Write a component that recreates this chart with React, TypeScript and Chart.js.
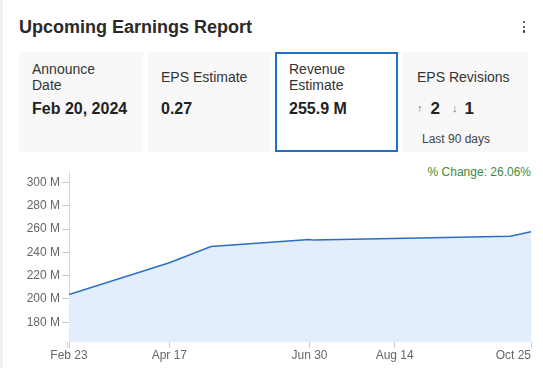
import React, { useEffect, useRef } from 'react';
import { Chart, registerables } from 'chart.js';

Chart.register(...registerables);

// ---- data ----
const pointDates = ['2023-02-23', '2023-04-17', '2023-05-09', '2023-06-30', '2023-07-02', '2023-10-14', '2023-10-25'];
const revenueM = [203.8, 231.0, 245.0, 251.1, 250.5, 253.9, 257.7];
const xTickDates = ['2023-02-23', '2023-04-17', '2023-06-30', '2023-08-14', '2023-10-25'];
const yTickValues = [180, 200, 220, 240, 260, 280, 300];
const yMin = 163;
const yMax = 309;
const monthNames = ['Jan', 'Feb', 'Mar', 'Apr', 'May', 'Jun', 'Jul', 'Aug', 'Sep', 'Oct', 'Nov', 'Dec'];

const cardLabels = [['Announce', 'Date'], ['EPS Estimate'], ['Revenue', 'Estimate'], ['EPS Revisions']];
const cardValues = ['Feb 20, 2024', '0.27', '255.9 M'];
const revisionsUp = '2';
const revisionsDown = '1';
const revisionsNote = 'Last 90 days';
const changeText = '% Change: 26.06%';
const titleText = 'Upcoming Earnings Report';

const DAY = 86400000;
const t0 = Date.parse(pointDates[0]);
const dayOf = (d: string) => (Date.parse(d) - t0) / DAY;
const fmtDay = (v: number) => {
  const dt = new Date(t0 + v * DAY);
  return monthNames[dt.getUTCMonth()] + ' ' + dt.getUTCDate();
};

const FONT = '"Liberation Sans", Arial, Helvetica, sans-serif';

function RevenueChart() {
  const ref = useRef<HTMLCanvasElement | null>(null);
  useEffect(() => {
    if (!ref.current) return;
    const xTicks = xTickDates.map(dayOf);
    const chart = new Chart(ref.current, {
      type: 'line',
      data: {
        datasets: [
          {
            data: pointDates.map((d, i) => ({ x: dayOf(d), y: revenueM[i] })),
            borderColor: '#2b6fc0',
            borderWidth: 1.5,
            backgroundColor: '#e2eefb',
            fill: 'start',
            pointRadius: 0,
            tension: 0,
          },
        ],
      },
      options: {
        animation: false,
        responsive: false,
        layout: { padding: { top: 12, right: 12, bottom: 0, left: 0 } },
        plugins: { legend: { display: false }, tooltip: { enabled: false } },
        scales: {
          x: {
            type: 'linear',
            min: 0,
            max: dayOf(xTickDates[xTickDates.length - 1]),
            afterBuildTicks: (s: any) => {
              s.ticks = [{ value: -1 }].concat(xTicks.map((v) => ({ value: v })));
            },
            afterFit: (s: any) => {
              s.height = 26;
              s.paddingLeft = 0;
              s.paddingRight = 0;
            },
            ticks: {
              autoSkip: false,
              maxRotation: 0,
              align: 'inner',
              padding: 0,
              color: '#666666',
              font: { size: 12, family: FONT },
              callback: (v: any) => (v < 0 ? '' : fmtDay(Number(v))),
            },
            grid: { drawOnChartArea: false, drawTicks: true, tickLength: 6, tickColor: '#cccccc' },
            border: { display: false },
          },
          y: {
            min: yMin,
            max: yMax,
            afterBuildTicks: (s: any) => {
              s.ticks = yTickValues.map((v) => ({ value: v }));
            },
            afterFit: (s: any) => {
              s.width = 69;
              s.paddingTop = 0;
              s.paddingBottom = 0;
            },
            ticks: {
              padding: 2,
              color: '#666666',
              font: { size: 12, family: FONT },
              callback: (v: any) => v + ' M',
            },
            grid: { drawOnChartArea: false, drawTicks: true, tickLength: 7, tickColor: '#cccccc' },
            border: { display: true, color: '#d6d6d6', width: 1 },
          },
        },
      } as any,
    });
    return () => chart.destroy();
  }, []);
  return <canvas ref={ref} width={543} height={208} style={{ display: 'block', width: 543, height: 208 }} />;
}

const cardLefts = [19, 148, 275, 402];
const cardWidths = [124, 123, 123, 126];

export default function App() {
  return (
    <div
      style={{
        position: 'absolute',
        left: 0,
        top: 0,
        width: 543,
        height: 368,
        background: '#ffffff',
        fontFamily: FONT,
        overflow: 'hidden',
      }}
    >
      <div style={{ position: 'absolute', left: 0, top: 0, width: 3, height: 368, background: '#f2f2f2' }} />
      <div
        style={{
          position: 'absolute',
          left: 19,
          top: 15,
          fontSize: 18,
          lineHeight: '24px',
          fontWeight: 'bold',
          color: '#2a2a2a',
          whiteSpace: 'nowrap',
        }}
      >
        {titleText}
      </div>
      {[22, 27, 31.5].map((y, i) => (
        <div
          key={i}
          style={{ position: 'absolute', left: 522.5, top: y - 1.2, width: 2.5, height: 2.5, borderRadius: 1, background: '#333' }}
        />
      ))}
      {cardLefts.map((left, i) => {
        const selected = i === 2;
        const lines = cardLabels[i];
        const textLeft = i === 3 ? 15 : selected ? 12 : 13;
        return (
          <div
            key={i}
            style={{
              position: 'absolute',
              left,
              top: 52,
              width: cardWidths[i],
              height: 100,
              boxSizing: 'border-box',
              background: selected ? '#ffffff' : '#f8f8f8',
              border: selected ? '2px solid #1f6fc5' : 'none',
            }}
          >
            <div
              style={{
                position: 'absolute',
                left: textLeft,
                top: (lines.length === 2 ? 9 : 17) - (selected ? 2 : 0),
                fontSize: 14,
                lineHeight: '16px',
                color: '#333333',
                whiteSpace: 'nowrap',
              }}
            >
              {lines.map((l, j) => (
                <div key={j}>{l}</div>
              ))}
            </div>
            {i < 3 ? (
              <div
                style={{
                  position: 'absolute',
                  left: textLeft,
                  top: 47 - (selected ? 2 : 0),
                  fontSize: 16,
                  lineHeight: '20px',
                  fontWeight: 'bold',
                  color: '#222222',
                  whiteSpace: 'nowrap',
                }}
              >
                {cardValues[i]}
              </div>
            ) : (
              <>
                <div
                  style={{
                    position: 'absolute',
                    left: 15,
                    top: 47,
                    lineHeight: '20px',
                    whiteSpace: 'nowrap',
                    color: '#222222',
                  }}
                >
                  <span style={{ fontSize: 11, color: '#777', position: 'relative', top: -2 }}>↑</span>
                  <span style={{ fontSize: 17, fontWeight: 'bold', marginLeft: 8 }}>{revisionsUp}</span>
                  <span style={{ fontSize: 11, color: '#777', marginLeft: 12, position: 'relative', top: -2 }}>↓</span>
                  <span style={{ fontSize: 17, fontWeight: 'bold', marginLeft: 7 }}>{revisionsDown}</span>
                </div>
                <div
                  style={{
                    position: 'absolute',
                    left: 20,
                    top: 80,
                    fontSize: 12,
                    lineHeight: '14px',
                    color: '#444444',
                    whiteSpace: 'nowrap',
                  }}
                >
                  {revisionsNote}
                </div>
              </>
            )}
          </div>
        );
      })}
      <div
        style={{
          position: 'absolute',
          right: 12,
          top: 165,
          fontSize: 12,
          lineHeight: '14px',
          color: '#428a3a',
          whiteSpace: 'nowrap',
        }}
      >
        {changeText}
      </div>
      <div style={{ position: 'absolute', left: 0, top: 160, width: 543, height: 208 }}>
        <RevenueChart />
      </div>
    </div>
  );
}
